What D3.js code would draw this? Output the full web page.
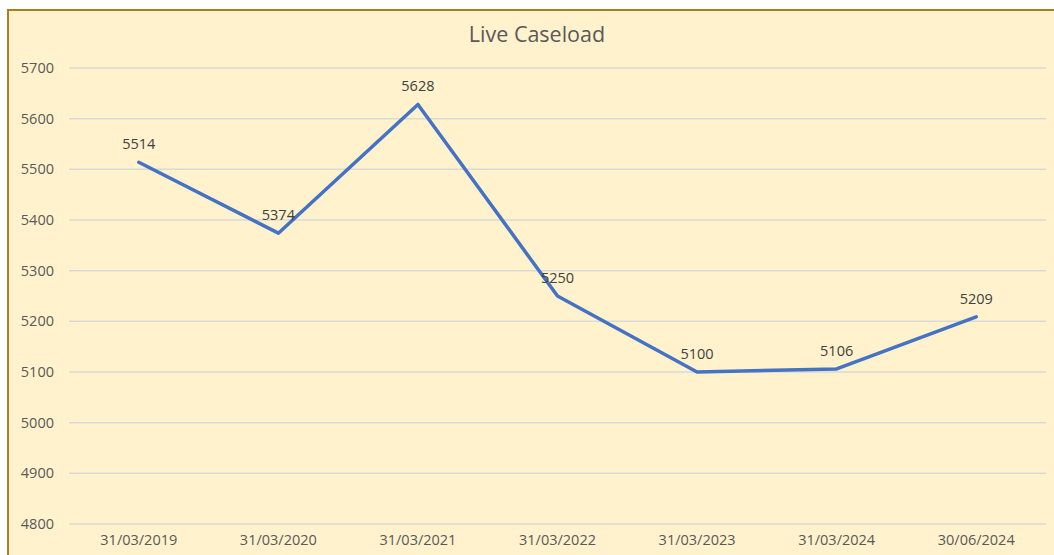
<!DOCTYPE html>
<html><head><meta charset="utf-8">
<script src="https://cdn.jsdelivr.net/npm/d3@7"></script>
<style>body{margin:0;background:#fff;}svg{display:block;}</style>
</head><body>
<script>
const categories = ["31/03/2019","31/03/2020","31/03/2021","31/03/2022","31/03/2023","31/03/2024","30/06/2024"];
const values = [5514,5374,5628,5250,5100,5106,5209];
const yTicks = [4800,4900,5000,5100,5200,5300,5400,5500,5600,5700];
const title = "Live Caseload";

(function(){
const W = 1054, H = 555;
const svg = d3.select("body").append("svg").attr("width", W).attr("height", H);
svg.append("rect").attr("x",8).attr("y",10).attr("width",W+10).attr("height",H+10)
  .attr("fill","#FFF2CC").attr("stroke","#A5801F").attr("stroke-width",2);

const pL = 69, pR = 1046, pT = 68, pB = 524;
const x = d3.scaleBand().domain(categories).range([pL,pR]);
const y = d3.scaleLinear().domain([4800,5700]).range([pB,pT]);
const font = "'Open Sans', sans-serif";

svg.append("g").selectAll("line").data(yTicks).join("line")
  .attr("x1",pL).attr("x2",pR).attr("y1",d=>y(d)).attr("y2",d=>y(d))
  .attr("stroke","#D9D9D9").attr("stroke-width",1.5);

const yAxis = svg.append("g").attr("transform",`translate(${pL},0)`)
  .call(d3.axisLeft(y).tickValues(yTicks).tickSize(0).tickPadding(15).tickFormat(d3.format("d")));
yAxis.select(".domain").remove();
yAxis.selectAll("text").attr("font-family",font).attr("font-size",14.5).attr("fill","#595959");

const xAxis = svg.append("g").attr("transform",`translate(0,${pB})`)
  .call(d3.axisBottom(x).tickSize(0).tickPadding(11));
xAxis.select(".domain").remove();
xAxis.selectAll("text").attr("font-family",font).attr("font-size",14.5).attr("fill","#595959");

const cx = d => x(d) + x.bandwidth()/2;
const line = d3.line().x((d,i)=>cx(categories[i])).y(d=>y(d));
svg.append("path").datum(values).attr("d",line).attr("fill","none")
  .attr("stroke","#4472C4").attr("stroke-width",3.5).attr("stroke-linejoin","round").attr("stroke-linecap","round");

svg.append("g").selectAll("text").data(values).join("text")
  .attr("x",(d,i)=>cx(categories[i])).attr("y",d=>y(d)-13)
  .attr("text-anchor","middle").attr("font-family",font).attr("font-size",14.5).attr("fill","#404040")
  .text(d=>d);

svg.append("text").attr("x",537).attr("y",42).attr("text-anchor","middle")
  .attr("font-family",font).attr("font-size",21.5).attr("fill","#595959").text(title);
})();
</script>
</body></html>
